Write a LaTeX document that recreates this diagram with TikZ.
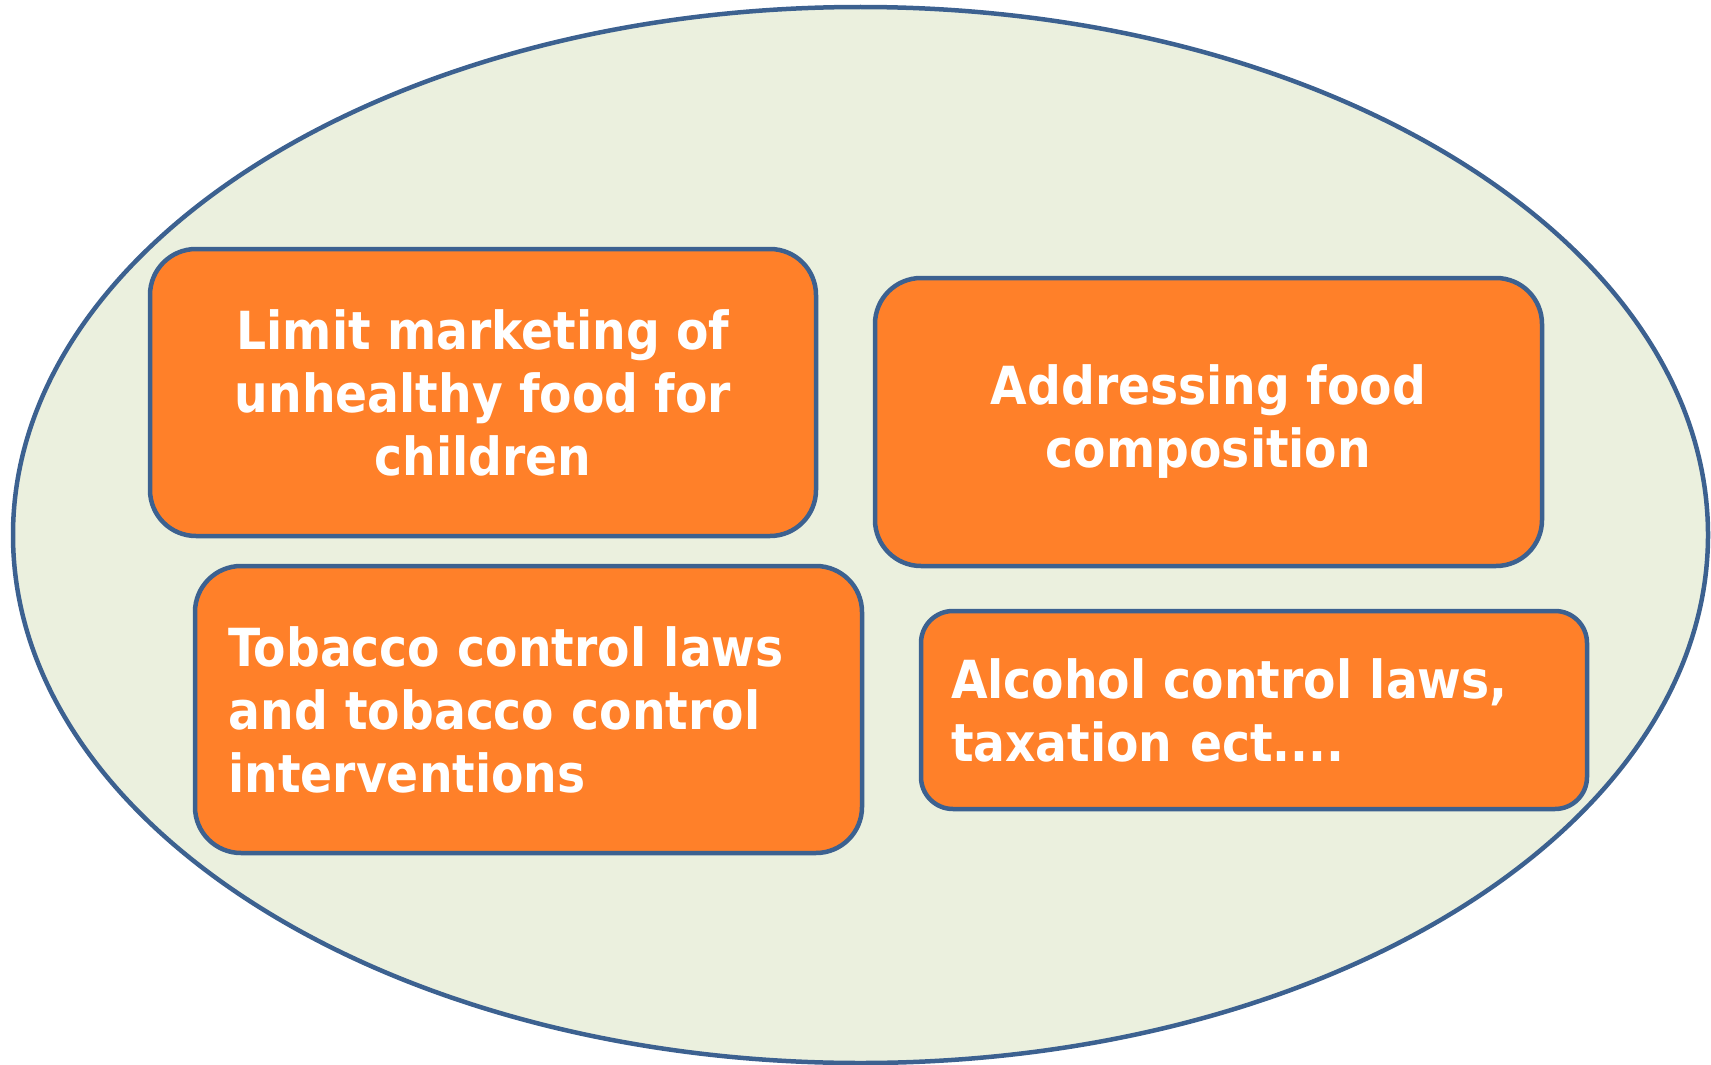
\documentclass[tikz,border=0pt]{standalone}
\usepackage{fontspec}
\setmainfont{DejaVu Sans Condensed}[BoldFont={DejaVu Sans Condensed Bold}]
\usetikzlibrary{shapes.geometric, positioning}
\definecolor{edgeblue}{HTML}{3C6190}
\definecolor{boxorange}{HTML}{FF8029}
\definecolor{fieldgreen}{HTML}{EBF0DE}
\tikzstyle{field} = [ellipse, draw=edgeblue, line width=4.5pt, fill=fieldgreen, inner sep=0pt]
\tikzstyle{policy} = [rectangle, rounded corners=46pt, draw=edgeblue, line width=4.5pt, fill=boxorange, text=white, font=\bfseries\fontsize{52.5}{63}\selectfont, inner sep=0pt, align=center]
\tikzstyle{policy_left} = [policy, align=left]

\begin{document}
\begin{tikzpicture}[x=1pt, y=-1pt]
	\useasboundingbox (0,0) rectangle (1711,1065);

		% Surrounding ellipse
		\node (field) at (860.5,535) [field, minimum width=1695pt, minimum height=1056pt] {};

		\node (limit_marketing) at (483,392.5) [policy, minimum width=666pt, minimum height=287pt] {Limit marketing of \\ unhealthy food for \\ children};

		\node (food_composition) at (1208.5,422) [policy, minimum width=667pt, minimum height=288pt] {Addressing food \\ composition};

		\node (tobacco_control) at (528.5,709.5) [policy_left, minimum width=667pt, minimum height=287pt, text width=600pt] {Tobacco control laws \\ and tobacco control \\ interventions};

		\node (alcohol_control) at (1254,710) [policy_left, rounded corners=32pt, minimum width=666pt, minimum height=198pt, text width=606pt] {Alcohol control laws, \\ taxation ect....};

	\end{tikzpicture}
\end{document}
